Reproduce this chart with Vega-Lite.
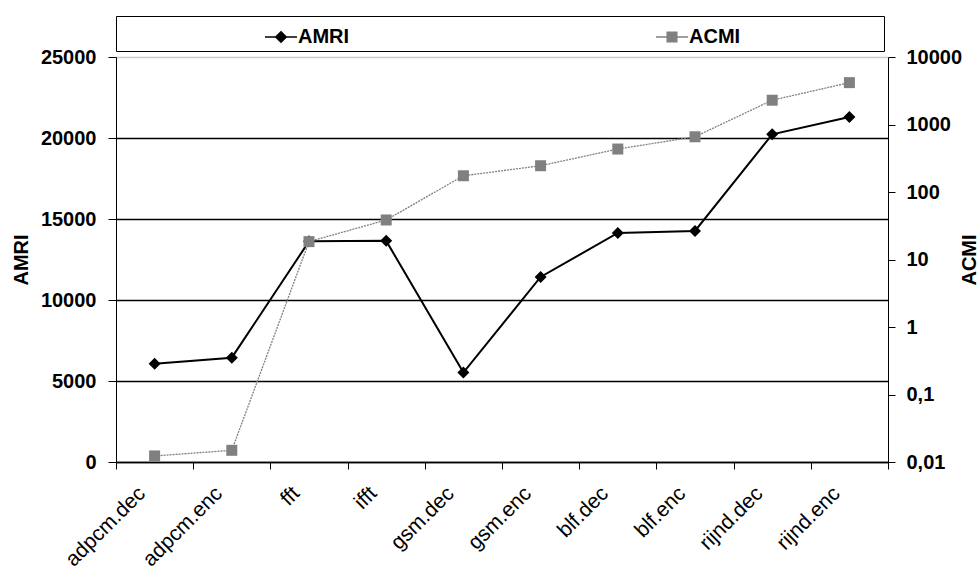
{
  "$schema": "https://vega.github.io/schema/vega-lite/v6.json",
  "autosize": "none",
  "width": 772,
  "height": 405,
  "padding": {"left": 116, "top": 57, "right": 92, "bottom": 114},
  "background": "white",
  "config": {
    "view": {"stroke": null},
    "font": "Liberation Sans"
  },
  "data": {
    "values": [
      {"bench": "adpcm.dec", "AMRI": 6070, "ACMI": 0.0123},
      {"bench": "adpcm.enc", "AMRI": 6440, "ACMI": 0.0149},
      {"bench": "fft", "AMRI": 13620, "ACMI": 18.4},
      {"bench": "ifft", "AMRI": 13650, "ACMI": 38.5},
      {"bench": "gsm.dec", "AMRI": 5520, "ACMI": 174},
      {"bench": "gsm.enc", "AMRI": 11420, "ACMI": 245},
      {"bench": "blf.dec", "AMRI": 14140, "ACMI": 433},
      {"bench": "blf.enc", "AMRI": 14260, "ACMI": 658},
      {"bench": "rijnd.dec", "AMRI": 20230, "ACMI": 2290},
      {"bench": "rijnd.enc", "AMRI": 21300, "ACMI": 4170}
    ]
  },
  "encoding": {
    "x": {
      "field": "bench",
      "type": "nominal",
      "sort": null,
      "scale": {"paddingInner": 0, "paddingOuter": 0},
      "axis": {
        "title": null,
        "tickBand": "extent",
        "labelAngle": -45,
        "labelAlign": "right",
        "labelBaseline": "middle",
        "labelFontSize": 21,
        "labelColor": "black",
        "labelPadding": 21,
        "labelOffset": -13,
        "tickSize": 7,
        "tickColor": "black",
        "domainColor": "black",
        "domainWidth": 1.5,
        "grid": false
      }
    }
  },
  "layer": [
    {
      "mark": {
        "type": "line",
        "strokeWidth": 2,
        "point": {"filled": true, "shape": "diamond", "size": 144}
      },
      "encoding": {
        "y": {
          "field": "AMRI",
          "type": "quantitative",
          "scale": {"domain": [0, 25000], "nice": false},
          "axis": {
            "title": "AMRI",
            "titleFontSize": 20,
            "titleFontWeight": "bold",
            "titleColor": "black",
            "titlePadding": 9,
            "values": [0, 5000, 10000, 15000, 20000, 25000],
            "format": "d",
            "labelFontSize": 20,
            "labelFontWeight": "bold",
            "labelColor": "black",
            "labelPadding": 12,
            "tickSize": 8,
            "tickColor": "black",
            "domainColor": "black",
            "grid": true,
            "gridColor": {"condition": {"test": "datum.value == 25000", "value": "#999999"}, "value": "black"},
            "gridDash": {"condition": {"test": "datum.value == 25000", "value": [1, 1]}, "value": []},
            "gridWidth": 1.3
          }
        },
        "color": {
          "datum": "AMRI",
          "type": "nominal",
          "scale": {"domain": ["AMRI", "ACMI"], "range": ["black", "#808080"]},
          "legend": {
            "orient": "none",
            "legendX": 0,
            "legendY": -41,
            "direction": "horizontal",
            "columns": 2,
            "title": " ",
            "titleOrient": "right",
            "titlePadding": 140,
            "titleFontSize": 20,
            "padding": 4,
            "strokeColor": "black",
            "fillColor": "white",
            "symbolSize": 1024,
            "symbolOffset": 144,
            "labelOffset": 0,
            "columnPadding": 161,
            "labelFontSize": 20,
            "labelFontWeight": "bold",
            "labelColor": "black",
            "encode": {
              "symbols": {
                "update": {
                  "shape": {"signal": "datum.value === 'AMRI' ? 'M-1,0H1M0,-0.33L0.33,0L0,0.33L-0.33,0Z' : 'M-1,0H1M-0.3,-0.3H0.3V0.3H-0.3Z'"},
                  "fill": {"signal": "datum.value === 'AMRI' ? 'black' : '#6e6e6e'"},
                  "stroke": {"signal": "datum.value === 'AMRI' ? 'black' : '#808080'"},
                  "strokeWidth": {"value": 1.5},
                  "opacity": {"value": 1}
                }
              }
            }
          }
        }
      }
    },
    {
      "mark": {
        "type": "line",
        "strokeWidth": 1.3,
        "strokeDash": [2, 1],
        "point": {"filled": true, "shape": "square", "size": 121, "color": "#6e6e6e"}
      },
      "encoding": {
        "y": {
          "field": "ACMI",
          "type": "quantitative",
          "scale": {"type": "log", "domain": [0.01, 10000], "nice": false},
          "axis": {
            "orient": "right",
            "title": "ACMI",
            "titleAngle": -90,
            "titleFontSize": 20,
            "titleFontWeight": "bold",
            "titleColor": "black",
            "titlePadding": 18,
            "values": [0.01, 0.1, 1, 10, 100, 1000, 10000],
            "labelExpr": "replace(format(datum.value, '~g'), '.', ',')",
            "labelFontSize": 20,
            "labelFontWeight": "bold",
            "labelColor": "black",
            "labelPadding": 11,
            "tickSize": 7,
            "tickColor": "black",
            "domainColor": "black",
            "grid": false
          }
        },
        "color": {"datum": "ACMI", "type": "nominal"}
      }
    }
  ],
  "resolve": {"scale": {"y": "independent"}}
}
